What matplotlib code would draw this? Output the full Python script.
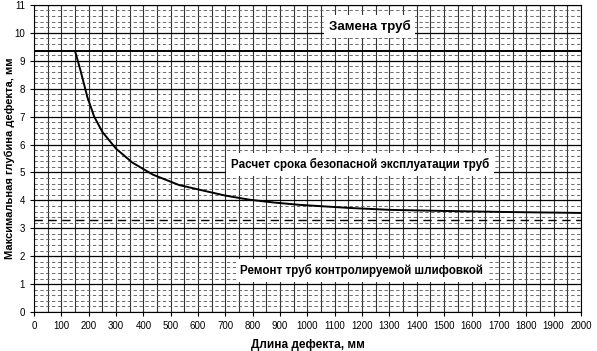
import matplotlib.pyplot as plt
import numpy as np

plt.rcParams['font.family'] = ['Liberation Sans', 'DejaVu Sans']

# данные кривой
dlina = [150, 170, 195, 220, 250, 300, 360, 435, 530, 610, 700, 790, 880, 970,
         1150, 1300, 1500, 1750, 2000]
glubina = [9.35, 8.65, 7.7, 7.0, 6.45, 5.85, 5.35, 4.92, 4.55, 4.37, 4.17, 4.02,
           3.92, 3.84, 3.73, 3.66, 3.62, 3.58, 3.55]

zamena = 9.35      # граница замены труб
remont = 3.3       # граница ремонта шлифовкой

nadpisi = ['Замена труб',
           'Расчет срока безопасной эксплуатации труб',
           'Ремонт труб контролируемой шлифовкой']
nadpisi_x = [1227, 1192, 1199]
nadpisi_y = [10.23, 5.27, 1.5]
nadpisi_size = [9.5, 8.4, 8.4]

fig = plt.figure(figsize=(5.97, 3.51), dpi=100)
ax = fig.add_axes([0.057, 0.111, 0.916, 0.875])

ax.set_xlim(0, 2000)
ax.set_ylim(0, 11)
ax.set_xticks(np.arange(0, 2001, 100))
ax.set_yticks(np.arange(0, 12, 1))
ax.set_xticks(np.arange(0, 2001, 50), minor=True)
ax.set_yticks(np.arange(0, 11.01, 0.2), minor=True)

# сетка
ax.grid(which='major', axis='y', color='black', linewidth=0.9)
ax.grid(which='minor', axis='y', color='#555555', linewidth=0.6, linestyle=(0, (4, 3)))
ax.grid(which='both', axis='x', color='#333333', linewidth=0.8)
ax.set_axisbelow(True)

ax.tick_params(axis='both', which='major', labelsize=7, length=3, width=0.8)
ax.tick_params(axis='both', which='minor', length=0)
for s in ax.spines.values():
    s.set_linewidth(0.8)

ax.axhline(zamena, color='black', linewidth=1.4)
ax.axhline(remont, color='black', linewidth=1.0, linestyle=(0, (6, 4)))
ax.plot(dlina, glubina, color='black', linewidth=1.4)

for t, x, y, fs in zip(nadpisi, nadpisi_x, nadpisi_y, nadpisi_size):
    ax.text(x, y, t, ha='center', va='center', fontsize=fs, fontweight='bold',
            bbox=dict(facecolor='white', edgecolor='none', pad=3.5))

ax.set_xlabel('Длина дефекта, мм', fontsize=8.5, fontweight='bold', labelpad=6)
ax.set_ylabel('Максимальная глубина дефекта, мм', fontsize=8, fontweight='bold')
ax.yaxis.set_label_coords(-0.035, 0.5)

plt.savefig('out.png', dpi=100)
